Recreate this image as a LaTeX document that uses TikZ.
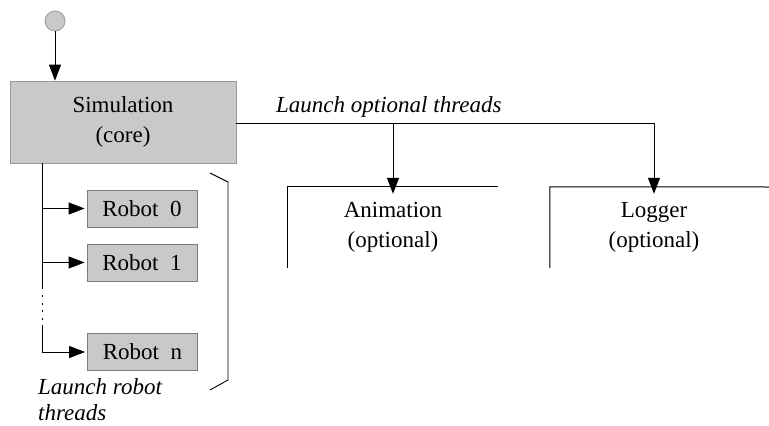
\documentclass[tikz,border=0pt]{standalone}
\usepackage{fontspec}
\setmainfont{Liberation Serif}
\usetikzlibrary{arrows.meta}
\definecolor{boxfill}{gray}{0.79}
\definecolor{boxline}{gray}{0.6}
\begin{document}
\begin{tikzpicture}[x=1pt,y=-1pt,
  every node/.style={font=\fontsize{23}{29.5}\selectfont, inner sep=0pt},
  simbox/.style={fill=boxfill, draw=boxline, line width=0.8pt, minimum width=226pt, minimum height=82pt, align=center},
  robotbox/.style={fill=boxfill, draw=boxline!80!black, line width=0.8pt, minimum width=110pt, minimum height=37pt},
  optbox/.style={minimum width=210pt, minimum height=81pt, align=center},
  conn/.style={line width=1pt, -{Triangle[length=16pt,width=12pt]}},
  plain/.style={line width=1pt},
  lbl/.style={font=\fontsize{23}{26}\itshape\selectfont, align=left}
]
\useasboundingbox (0,0) rectangle (769,426);
\node[circle, fill=boxfill, draw=boxline, line width=0.8pt, minimum size=20pt] (start) at (55,21) {};
\node[simbox] (sim) at (123,122) {Simulation\\(core)};
\draw[conn] (start) -- (sim.north -| start);

% optional threads
\node[optbox] (anim) at (393,227.5) {Animation\\(optional)};
\node[optbox, minimum width=208pt] (log) at (654,227.5) {Logger\\(optional)};
\coordinate (edge) at (769,187);
\draw[plain] (anim.south west) -- (anim.north west) -- (anim.north east);
\draw[plain] (log.south west) -- (log.north west) -- (edge);
\coordinate (jA) at (393,123);
\coordinate (jL) at (654,123);
\draw[plain] (sim.east |- jA) -- (jL);
\draw[conn] (jA) -- ([yshift=-7pt]anim.north);
\draw[conn] (jL) -- ([yshift=-7pt]log.north);
\node[lbl, anchor=base west] (optlbl) at (276,112) {Launch optional threads};

% robots
\node[robotbox] (r0) at (142,208.5) {Robot\ \ 0};
\node[robotbox] (r1) at (142,262.5) {Robot\ \ 1};
\node[robotbox] (rn) at (142.5,352) {Robot\ \ n};
\coordinate (vtop) at (42,163);
\coordinate (vmid) at (42,289);
\coordinate (vmid2) at (42,325);
\draw[plain] (vtop) -- (vmid);
\foreach \yy in {296,303.5,311,318.5}
  \fill (41.5,\yy-1) rectangle (42.5,\yy+1);
\draw[plain] (vmid2) -- (vmid2 |- rn);
\draw[conn] (vtop |- r0) -- ([xshift=-2pt]r0.west);
\draw[conn] (vtop |- r1) -- ([xshift=-2pt]r1.west);
\draw[conn] (vmid2 |- rn) -- ([xshift=-2pt]rn.west);

% bracket
\coordinate (b1) at (210,173);
\coordinate (b2) at (228,182);
\coordinate (b3) at (228,380);
\coordinate (b4) at (210,390);
\draw[line width=0.9pt] (b1) -- (b2) -- (b3) -- (b4);
\node[lbl, anchor=base west] (robotlbl) at (38,420) {Launch robot\\threads};
\end{tikzpicture}
\end{document}
